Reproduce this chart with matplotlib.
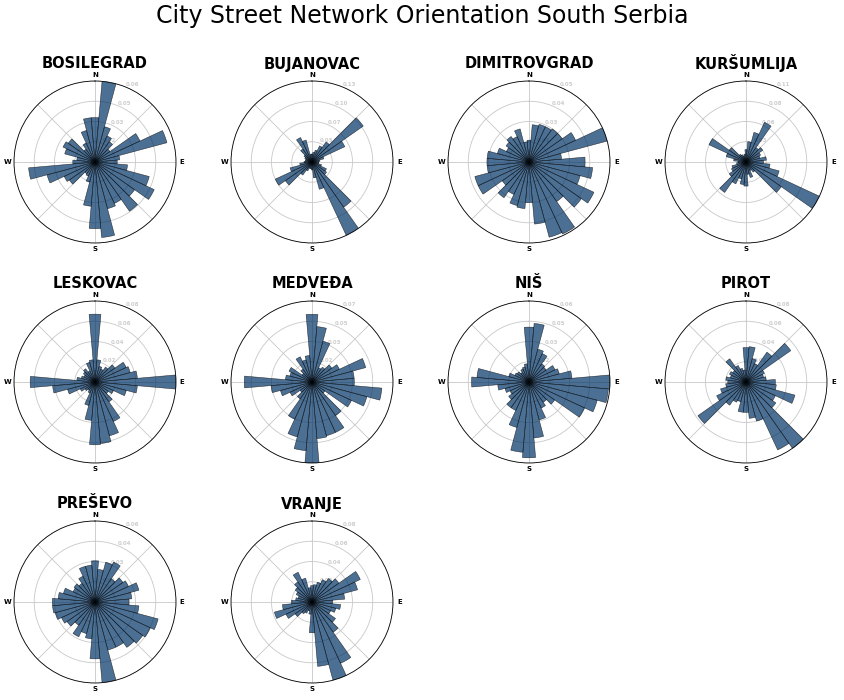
import numpy as np
import matplotlib.pyplot as plt

# orientation bins (degrees, clockwise from north), 10 degree bins
bin_centers = np.arange(0, 360, 10)

city_names = ["BOSILEGRAD", "BUJANOVAC", "DIMITROVGRAD", "KURŠUMLIJA", "LESKOVAC",
              "MEDVEĐA", "NIŠ", "PIROT", "PREŠEVO", "VRANJE"]

# frequency of street bearings per bin
bosilegrad = [0.034, 0.062, 0.028, 0.022, 0.019, 0.014, 0.038, 0.057, 0.019, 0.017,
              0.025, 0.043, 0.050, 0.037, 0.046, 0.035, 0.037, 0.058, 0.051, 0.034,
              0.016, 0.012, 0.011, 0.024, 0.026, 0.038, 0.051, 0.017, 0.014, 0.024,
              0.027, 0.025, 0.012, 0.016, 0.025, 0.034]
bujanovac = [0.013, 0.016, 0.020, 0.029, 0.040, 0.102, 0.059, 0.020, 0.013, 0.011,
             0.011, 0.016, 0.026, 0.029, 0.090, 0.132, 0.046, 0.026, 0.013, 0.011,
             0.011, 0.016, 0.026, 0.053, 0.066, 0.037, 0.020, 0.013, 0.011, 0.011,
             0.013, 0.016, 0.026, 0.044, 0.037, 0.013]
dimitrovgrad = [0.014, 0.024, 0.025, 0.025, 0.026, 0.026, 0.033, 0.052, 0.021, 0.036,
                0.041, 0.034, 0.046, 0.041, 0.031, 0.051, 0.050, 0.040, 0.026, 0.030,
                0.029, 0.023, 0.028, 0.021, 0.036, 0.036, 0.027, 0.027, 0.027, 0.021,
                0.016, 0.018, 0.020, 0.018, 0.022, 0.013]
kursumlija = [0.017, 0.028, 0.042, 0.060, 0.024, 0.028, 0.022, 0.020, 0.028, 0.024,
              0.033, 0.047, 0.111, 0.059, 0.017, 0.013, 0.022, 0.017, 0.033, 0.031,
              0.024, 0.033, 0.051, 0.028, 0.022, 0.020, 0.013, 0.011, 0.017, 0.028,
              0.056, 0.028, 0.013, 0.011, 0.009, 0.011]
leskovac = [0.067, 0.022, 0.016, 0.014, 0.018, 0.024, 0.034, 0.036, 0.042, 0.080,
            0.042, 0.032, 0.020, 0.016, 0.024, 0.043, 0.055, 0.061, 0.062, 0.038,
            0.024, 0.012, 0.010, 0.012, 0.016, 0.028, 0.042, 0.064, 0.018, 0.014,
            0.012, 0.014, 0.016, 0.012, 0.020, 0.022]
medveda = [0.056, 0.046, 0.035, 0.013, 0.015, 0.020, 0.025, 0.046, 0.035, 0.035,
           0.058, 0.047, 0.036, 0.013, 0.034, 0.046, 0.046, 0.047, 0.067, 0.057,
           0.047, 0.034, 0.017, 0.012, 0.020, 0.027, 0.034, 0.056, 0.022, 0.019,
           0.021, 0.010, 0.013, 0.023, 0.019, 0.022]
nis = [0.042, 0.045, 0.026, 0.024, 0.017, 0.016, 0.022, 0.024, 0.033, 0.062,
       0.061, 0.054, 0.047, 0.024, 0.019, 0.022, 0.030, 0.043, 0.058, 0.054,
       0.036, 0.024, 0.024, 0.019, 0.016, 0.019, 0.024, 0.044, 0.040, 0.016,
       0.012, 0.011, 0.009, 0.011, 0.012, 0.014]
pirot = [0.034, 0.035, 0.024, 0.020, 0.036, 0.054, 0.020, 0.018, 0.020, 0.029,
         0.030, 0.050, 0.032, 0.036, 0.080, 0.074, 0.040, 0.036, 0.030, 0.030,
         0.020, 0.022, 0.028, 0.058, 0.032, 0.026, 0.020, 0.018, 0.020, 0.016,
         0.018, 0.016, 0.028, 0.018, 0.014, 0.012]
presevo = [0.029, 0.023, 0.029, 0.031, 0.020, 0.024, 0.026, 0.032, 0.026, 0.024,
           0.031, 0.046, 0.043, 0.041, 0.039, 0.035, 0.035, 0.057, 0.040, 0.026,
           0.023, 0.027, 0.020, 0.024, 0.026, 0.029, 0.030, 0.030, 0.026, 0.023,
           0.017, 0.018, 0.016, 0.020, 0.026, 0.026]
vranje = [0.016, 0.017, 0.020, 0.024, 0.028, 0.032, 0.052, 0.046, 0.032, 0.020,
          0.028, 0.024, 0.020, 0.028, 0.036, 0.066, 0.079, 0.063, 0.030, 0.012,
          0.009, 0.012, 0.014, 0.020, 0.028, 0.038, 0.029, 0.020, 0.016, 0.014,
          0.017, 0.020, 0.024, 0.032, 0.024, 0.014]

city_freqs = [bosilegrad, bujanovac, dimitrovgrad, kursumlija, leskovac,
              medveda, nis, pirot, presevo, vranje]

xtick_font = {'family': 'DejaVu Sans', 'size': 5, 'weight': 'bold', 'alpha': 1.0, 'zorder': 3}
ytick_font = {'family': 'DejaVu Sans', 'size': 4, 'weight': 'bold', 'alpha': 0.2, 'zorder': 3}

W, H = 844, 700
R = 81
col_x = [95, 312, 529, 746]
row_y = [162, 382, 602]

fig = plt.figure(figsize=(W / 100, H / 100), dpi=100)
fig.text(0.5, 1 - 16 / H, "City Street Network Orientation South Serbia",
         ha='center', va='center', fontsize=17)

for i, (name, freq) in enumerate(zip(city_names, city_freqs)):
    cx, cy = col_x[i % 4], row_y[i // 4]
    ax = fig.add_axes([(cx - R) / W, (H - cy - R) / H, 2 * R / W, 2 * R / H], projection='polar')
    ax.set_theta_zero_location('N')
    ax.set_theta_direction('clockwise')
    ax.bar(np.radians(bin_centers), freq, width=np.radians(10), align='center', bottom=0,
           zorder=2, color='#003366', edgecolor='k', linewidth=0.4, alpha=0.7)

    top = max(freq)
    ax.set_ylim(0, top)
    yticks = np.linspace(0, top, 5)
    ax.set_yticks(yticks)
    yticklabels = ['{:.2f}'.format(y) for y in yticks]
    yticklabels[0] = ''
    ax.set_yticklabels(yticklabels, fontdict=ytick_font)

    ax.set_xticks(np.radians(np.arange(0, 360, 45)))
    ax.set_xticklabels(['N', '', 'E', '', 'S', '', 'W', ''], fontdict=xtick_font)
    ax.tick_params(axis='x', which='major', pad=-6)
    ax.grid(color='#c8c8c8', linewidth=0.6)
    ax.spines['polar'].set_linewidth(0.6)
    ax.set_title(name, y=1.0, pad=9, fontsize=10.5, fontweight='bold', family='DejaVu Sans')

fig.savefig('out.png', dpi=100)
